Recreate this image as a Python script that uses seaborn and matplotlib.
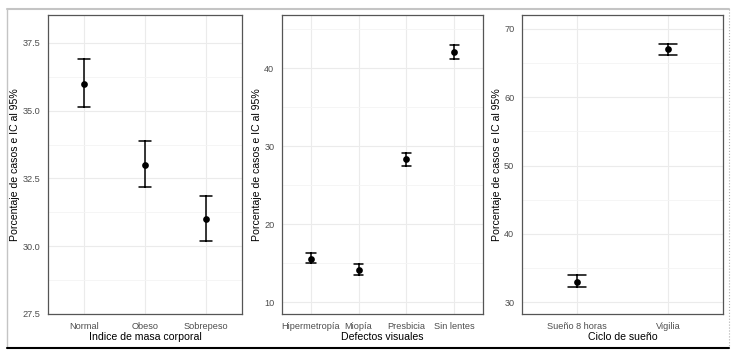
import numpy as np
import pandas as pd
import matplotlib
matplotlib.use("Agg")
import matplotlib.pyplot as plt
import seaborn as sns
from matplotlib.ticker import MultipleLocator
from matplotlib.lines import Line2D

# Indice de masa corporal
imc_cats = ["Normal", "Obeso", "Sobrepeso"]
imc_mean = [36.0, 33.0, 31.0]
imc_low = [35.12, 32.17, 30.18]
imc_high = [36.9, 33.87, 31.87]

# Defectos visuales
vis_cats = ["Hipermetropía", "Miopía", "Presbicia", "Sin lentes"]
vis_mean = [15.6, 14.1, 28.3, 42.1]
vis_low = [15.0, 13.5, 27.5, 41.1]
vis_high = [16.35, 14.85, 29.1, 43.0]

# Ciclo de sueño
sue_cats = ["Sueño 8 horas", "Vigilia"]
sue_mean = [33.0, 67.0]
sue_low = [32.2, 66.2]
sue_high = [34.0, 67.8]

ylab = "Porcentaje de casos e IC al 95%"


def long_table(cats, mean, low, high):
    # three rows per category, the median is the estimate, min/max the interval
    rows = []
    for c, m, lo, hi in zip(cats, mean, low, high):
        rows += [(c, lo), (c, m), (c, hi)]
    return pd.DataFrame(rows, columns=["cat", "val"])


def ci_plot(ax, cats, mean, low, high, xlabel, ylim, major):
    df = long_table(cats, mean, low, high)
    sns.pointplot(data=df, x="cat", y="val", order=cats, ax=ax,
                  estimator="median", errorbar=lambda v: (v.min(), v.max()),
                  capsize=0.2, linestyle="none", color="black",
                  markersize=2.8, err_kws={"linewidth": 1.1})
    ax.set_xlim(-0.6, len(cats) - 0.4)
    ax.set_ylim(*ylim)
    ax.yaxis.set_major_locator(MultipleLocator(major))
    ax.yaxis.set_minor_locator(MultipleLocator(major / 2))
    ax.grid(True, which="major", color="#ebebeb", linewidth=0.8)
    ax.yaxis.grid(True, which="minor", color="#f4f4f4", linewidth=0.6)
    ax.set_axisbelow(True)
    ax.set_xlabel(xlabel, fontsize=7.6, color="black", labelpad=1)
    ax.set_ylabel(ylab, fontsize=7.6, color="black", labelpad=1.5)
    ax.tick_params(axis="both", which="major", labelsize=6.6, colors="#4d4d4d",
                   length=3, width=0.6, pad=2.5)
    ax.tick_params(axis="y", which="minor", length=0)
    for s in ax.spines.values():
        s.set_color("#555555")
        s.set_linewidth(0.9)


sns.set_theme(style="white")
plt.rcParams["font.family"] = ["Liberation Sans", "DejaVu Sans"]

fig = plt.figure(figsize=(7.37, 3.57), dpi=100)
W, H = 737, 357
bottom = (H - 314) / H
height = 299 / H
ax1 = fig.add_axes([48 / W, bottom, 194 / W, height])
ax2 = fig.add_axes([282 / W, bottom, 201 / W, height])
ax3 = fig.add_axes([522 / W, bottom, 201 / W, height])

ci_plot(ax1, imc_cats, imc_mean, imc_low, imc_high,
        "Indice de masa corporal", (27.5, 38.53), 2.5)
ax1.yaxis.set_major_formatter(plt.FormatStrFormatter("%.1f"))
ci_plot(ax2, vis_cats, vis_mean, vis_low, vis_high,
        "Defectos visuales", (8.5, 46.8), 10)
ci_plot(ax3, sue_cats, sue_mean, sue_low, sue_high,
        "Ciclo de sueño", (28.3, 72.0), 10)

# screenshot frame
fig.add_artist(Line2D([7 / W, 729 / W], [1 - 9 / H, 1 - 9 / H],
                      transform=fig.transFigure, color="#c4c4c4", lw=1.5))
fig.add_artist(Line2D([7 / W, 7 / W], [1 - 9 / H, 1 - 348 / H],
                      transform=fig.transFigure, color="#c4c4c4", lw=1.0))
fig.add_artist(Line2D([729 / W, 729 / W], [1 - 9 / H, 1 - 348 / H],
                      transform=fig.transFigure, color="#b0b0b0", lw=0.8, ls=":"))
fig.add_artist(Line2D([7 / W, 729 / W], [1 - 348 / H, 1 - 348 / H],
                      transform=fig.transFigure, color="black", lw=1.5))

fig.savefig("out.png", dpi=100)
